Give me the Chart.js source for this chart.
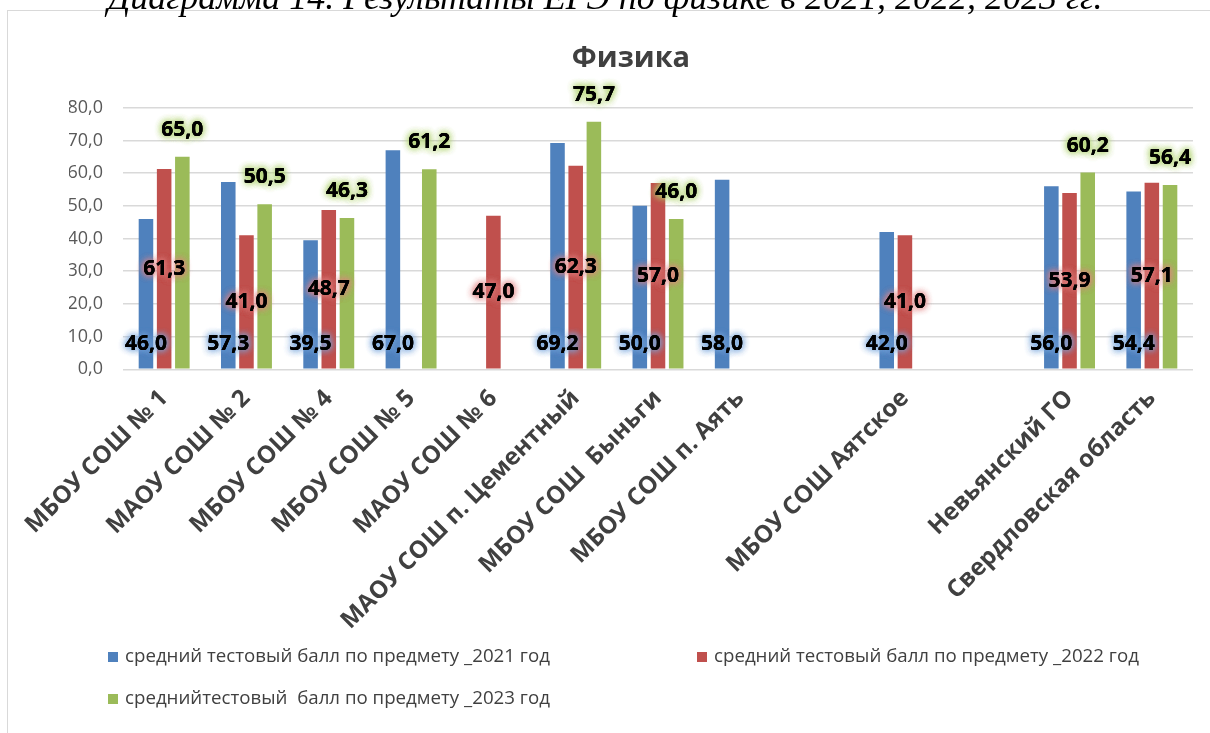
<!DOCTYPE html>
<html>
<head>
<meta charset="utf-8">
<script src="https://cdn.jsdelivr.net/npm/chart.js@4.4.0/dist/chart.umd.min.js"></script>
<style>
  html, body { margin: 0; padding: 0; background: #fff; }
  #wrap { position: relative; width: 1210px; height: 733px; overflow: hidden; }
  #frame { position: absolute; left: 7px; top: 10px; width: 1220px; height: 740px; border-left: 1px solid #d9d9d9; border-top: 1px solid #d9d9d9; }
  #caption { position: absolute; left: 0; top: -21px; width: 1210px; text-align: center; font: italic 36px "Liberation Serif"; line-height: 36px; color: #000; white-space: nowrap; }
  canvas { position: absolute; left: 0; top: 0; }
</style>
</head>
<body>
<div id="wrap">
  <div id="frame"></div>
  <canvas id="chart" width="1210" height="733"></canvas>
  <div id="caption">Диаграмма 14. Результаты ЕГЭ по физике в 2021, 2022, 2023 гг.</div>
</div>
<script>
// schools (empty names are the blank slots in the original sheet)
const categories = [
  'МБОУ СОШ № 1', 'МАОУ СОШ № 2', 'МБОУ СОШ № 4', 'МБОУ СОШ № 5', 'МАОУ СОШ № 6',
  'МАОУ СОШ п. Цементный', 'МБОУ СОШ  Быньги', 'МБОУ СОШ п. Аять', '',
  'МБОУ СОШ Аятское', '', 'Невьянский ГО', 'Свердловская область'
];
const score2021 = [46.0, 57.3, 39.5, 67.0, null, 69.2, 50.0, 58.0, null, 42.0, null, 56.0, 54.4];
const score2022 = [61.3, 41.0, 48.7, null, 47.0, 62.3, 57.0, null, null, 41.0, null, 53.9, 57.1];
const score2023 = [65.0, 50.5, 46.3, 61.2, null, 75.7, 46.0, null, null, null, null, 60.2, 56.4];
const seriesNames = [
  'средний тестовый балл по предмету _2021 год',
  'средний тестовый балл по предмету _2022 год',
  'среднийтестовый  балл по предмету _2023 год'
];
const seriesColors = ['#4F81BD', '#C0504D', '#9BBB59'];
const glowColors = ['rgba(120,165,220,0.9)', 'rgba(225,130,130,0.9)', 'rgba(175,210,110,0.9)'];
const labelAnchors = ['base', 'center', 'end'];

const fmt = v => v.toFixed(1).replace('.', ',');

const valueLabels = {
  id: 'valueLabels',
  afterDatasetsDraw(chart) {
    const ctx = chart.ctx;
    ctx.save();
    ctx.font = 'bold 21px "Open Sans"';
    ctx.textAlign = 'center';
    ctx.textBaseline = 'middle';
    chart.data.datasets.forEach((ds, i) => {
      chart.getDatasetMeta(i).data.forEach((bar, j) => {
        const v = ds.data[j];
        if (v == null) return;
        let y;
        if (labelAnchors[i] === 'base') y = bar.base - 25;
        else if (labelAnchors[i] === 'center') y = (bar.y + bar.base) / 2;
        else y = bar.y - 27;
        ctx.fillStyle = '#000';
        ctx.shadowColor = glowColors[i];
        ctx.shadowBlur = 7;
        for (let k = 0; k < 3; k++) ctx.fillText(fmt(v), bar.x, y);
        ctx.shadowBlur = 0;
        ctx.fillText(fmt(v), bar.x, y);
      });
    });
    ctx.restore();
  }
};

// two-column legend like the Excel one
const gridLegend = {
  id: 'gridLegend',
  afterDraw(chart) {
    const ctx = chart.ctx;
    const cols = [108, 697];
    const rows = [chart.height - 76, chart.height - 34];
    ctx.save();
    ctx.font = '18.7px "Open Sans"';
    ctx.textBaseline = 'middle';
    ctx.textAlign = 'left';
    chart.data.datasets.forEach((ds, i) => {
      const x = cols[i % 2];
      const y = rows[Math.floor(i / 2)];
      ctx.fillStyle = ds.backgroundColor;
      ctx.fillRect(x, y - 5, 10, 10);
      ctx.fillStyle = '#404040';
      ctx.fillText(ds.label, x + 17, y);
    });
    ctx.restore();
  }
};

const ctx = document.getElementById('chart').getContext('2d');
const chart = new Chart(ctx, {
  type: 'bar',
  data: {
    labels: categories,
    datasets: [score2021, score2022, score2023].map((data, i) => ({
      label: seriesNames[i],
      data,
      backgroundColor: seriesColors[i],
      barPercentage: 0.8,
      categoryPercentage: 0.663
    }))
  },
  options: {
    responsive: false,
    animation: false,
    layout: { padding: { left: 69, right: 17, top: 31, bottom: 91 } },
    plugins: {
      legend: { display: false },
      tooltip: { enabled: false },
      title: {
        display: true,
        text: 'Физика',
        color: '#404040',
        font: { family: 'Open Sans', size: 29, weight: 'bold' },
        padding: { top: 10, bottom: 32 }
      }
    },
    scales: {
      x: {
        grid: { display: false },
        border: { display: false },
        afterFit(s) { s.paddingLeft = 0; s.paddingRight = 0; },
        ticks: {
          autoSkip: false,
          maxRotation: 45,
          minRotation: 45,
          color: '#404040',
          font: { family: 'Open Sans', size: 24, weight: 'bold' },
          padding: 7
        }
      },
      y: {
        min: 0,
        max: 80,
        border: { display: false },
        grid: { color: '#d9d9d9', lineWidth: 1.5, drawTicks: false },
        afterFit(s) { s.width = 54; },
        ticks: {
          stepSize: 10,
          color: '#595959',
          font: { family: 'Open Sans', size: 18 },
          padding: 20,
          callback: v => fmt(v)
        }
      }
    }
  },
  plugins: [valueLabels, gridLegend]
});
</script>
</body>
</html>
